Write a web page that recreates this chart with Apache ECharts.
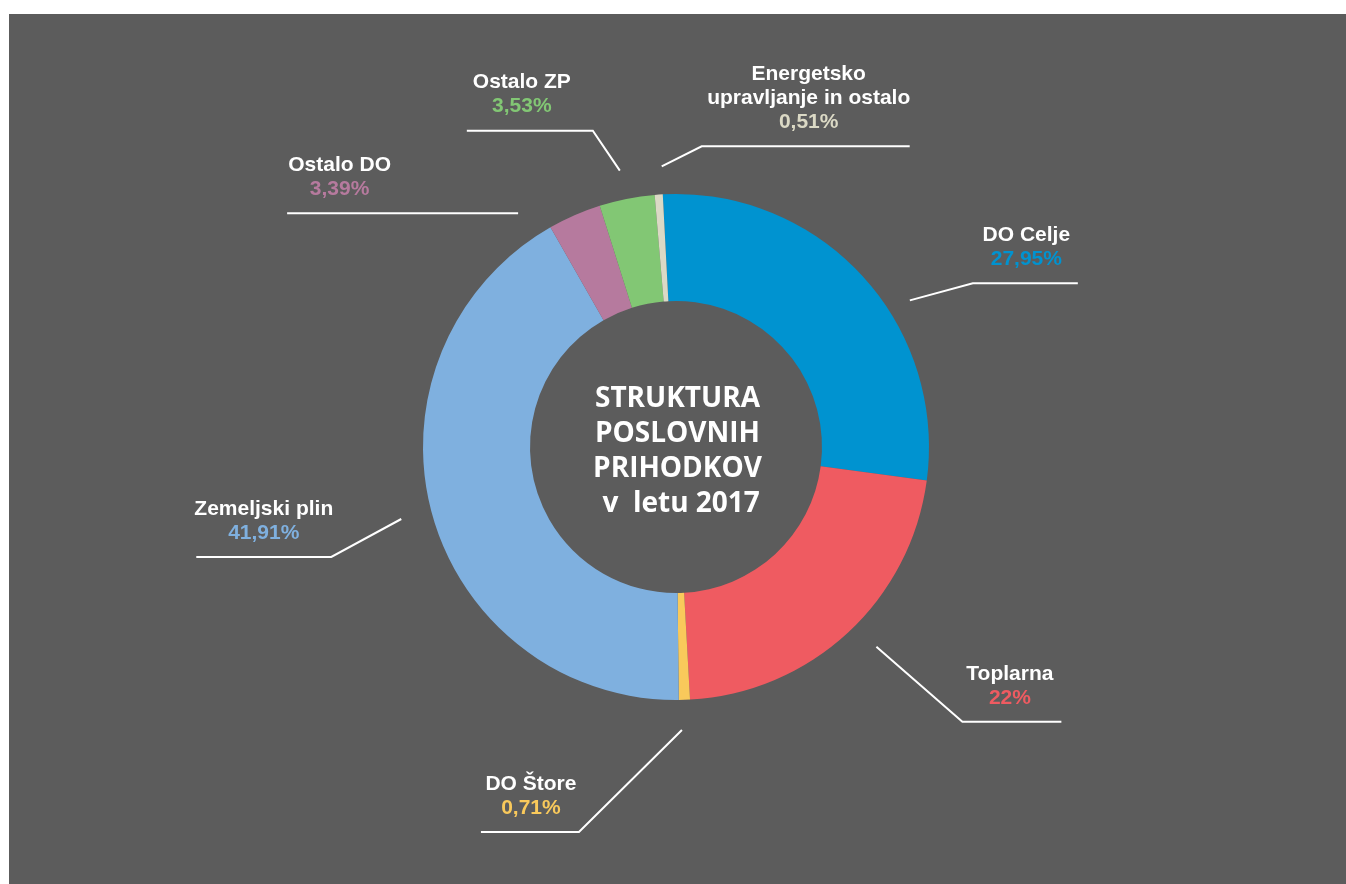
<!DOCTYPE html>
<html>
<head>
<meta charset="utf-8">
<script src="https://cdn.jsdelivr.net/npm/echarts@6/dist/echarts.min.js"></script>
<style>
  html, body { margin: 0; padding: 0; background: #ffffff; }
  #chart { position: absolute; left: 9px; top: 14px; width: 1337px; height: 870px; }
</style>
</head>
<body>
<div id="chart"></div>
<script>
// ---- data ----
const categories = ['DO Celje', 'Toplarna', 'DO Štore', 'Zemeljski plin', 'Ostalo DO', 'Ostalo ZP', 'Energetsko\nupravljanje in ostalo'];
const shares = [27.95, 22, 0.71, 41.91, 3.39, 3.53, 0.51];
const centerTitle = 'STRUKTURA\nPOSLOVNIH\nPRIHODKOV\n v  letu 2017';

// ---- styles / layout ----
const colors = ['#0093d0', '#ef5b61', '#f9c95b', '#7fb0df', '#b67a9e', '#82c774', '#dbd9c5'];
const CX = 667, CY = 433, R_IN = 146, R_OUT = 253, START = 93;
// per label: angle nudge (deg), start radius, elbow offset from start, horizontal length, text x offset from segment middle
const labelGeo = [
  { nudge: -10.6, r: 276, elbow: [63, -17], len: 105, tx: 1 },
  { nudge: 2.3, r: 283, elbow: [86, 75], len: 99, tx: -2 },
  { nudge: -0.7, r: 283, elbow: [-103, 102], len: -98, tx: 1 },
  { nudge: -0.5, r: 284, elbow: [-70, 38], len: -135, tx: 0 },
  { nudge: 10.4, r: 282, elbow: [0, 0], len: -231, tx: -63 },
  { nudge: 0.3, r: 282, elbow: [-27, -40], len: -126, tx: -8 },
  { nudge: -1, r: 281, elbow: [40, -20], len: 208, tx: 3 }
];

const total = shares.reduce((a, b) => a + b, 0);
const midAngles = [];
{
  let cum = 0;
  shares.forEach(v => {
    const span = v / total * 360;
    midAngles.push(START - (cum + span / 2));
    cum += span;
  });
}

const rich = { n: { color: '#ffffff', fontSize: 21, fontWeight: 'bold', fontFamily: 'Liberation Sans', lineHeight: 24, align: 'center' } };
colors.forEach((c, i) => {
  rich['v' + i] = { color: c, fontSize: 21, fontWeight: 'bold', fontFamily: 'Liberation Sans', lineHeight: 24, align: 'center' };
});

const chart = echarts.init(document.getElementById('chart'));
chart.setOption({
  backgroundColor: '#5c5c5c',
  animation: false,
  title: {
    text: centerTitle,
    left: 'center',
    top: 368,
    padding: 0,
    textStyle: { color: '#ffffff', fontFamily: 'Open Sans', fontWeight: 'bold', fontSize: 28, lineHeight: 35, align: 'center' }
  },
  series: [{
    type: 'pie',
    center: [CX, CY],
    radius: [R_IN, R_OUT],
    startAngle: START,
    clockwise: true,
    silent: true,
    avoidLabelOverlap: false,
    data: categories.map((name, i) => ({ name, value: shares[i], itemStyle: { color: colors[i] } })),
    label: {
      show: true,
      position: 'outside',
      formatter: p => {
        const lines = p.name.split('\n').map(s => '{n|' + s + '}');
        lines.push('{v' + p.dataIndex + '|' + String(p.value).replace('.', ',') + '%}');
        return lines.join('\n');
      },
      rich
    },
    labelLine: { show: true, lineStyle: { color: '#ffffff', width: 2 } },
    labelLayout: function (params) {
      const i = params.dataIndex;
      const g = labelGeo[i];
      const a = (midAngles[i] + g.nudge) * Math.PI / 180;
      const sx = CX + g.r * Math.cos(a), sy = CY - g.r * Math.sin(a);
      const ex = sx + g.elbow[0], ey = sy + g.elbow[1];
      const fx = ex + g.len;
      const mid = (ex + fx) / 2 + g.tx;
      return {
        x: mid,
        y: ey - 12,
        align: 'center',
        verticalAlign: 'bottom',
        labelLinePoints: [[sx, sy], [ex, ey], [fx, ey]]
      };
    }
  }]
});
</script>
</body>
</html>
